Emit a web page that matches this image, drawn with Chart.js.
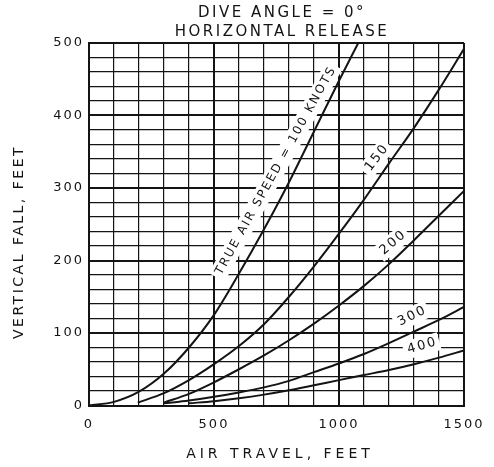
<!DOCTYPE html>
<html>
<head>
<meta charset="utf-8">
<script src="https://cdn.jsdelivr.net/npm/chart.js@4.4.1/dist/chart.umd.min.js"></script>
<style>
  html, body { margin: 0; padding: 0; background: #fff; }
  #wrap { width: 494px; height: 467px; }
</style>
</head>
<body>
<div id="wrap"><canvas id="chart" width="494" height="467"></canvas></div>
<script>
const xTickLabels = [0, 500, 1000, 1500];
const yTickLabels = [0, 100, 200, 300, 400, 500];

// air travel (ft) vs vertical fall (ft), one pair per true air speed
const travel100 = [0, 100, 200, 300, 400, 500, 600, 700, 800, 900, 1000, 1077];
const fall100 = [0, 5, 19, 44, 80, 125, 182, 243, 308, 378, 448, 500];

const travel150 = [195, 300, 400, 500, 600, 700, 800, 900, 1000, 1100, 1200, 1300, 1400, 1500];
const fall150 = [4, 17, 35, 57, 82, 112, 150, 192, 237, 284, 334, 383, 436, 492];

const travel200 = [300, 400, 500, 600, 700, 800, 900, 1000, 1100, 1200, 1300, 1400, 1500];
const fall200 = [4, 16, 32, 50, 69, 90, 113, 138, 165, 195, 228, 262, 296];

const travel300 = [300, 400, 500, 600, 700, 800, 900, 1000, 1100, 1200, 1300, 1400, 1500];
const fall300 = [3, 7, 12, 18, 25, 34, 46, 58, 71, 86, 102, 118, 136];

const travel400 = [400, 500, 600, 700, 800, 900, 1000, 1100, 1200, 1300, 1400, 1500];
const fall400 = [3, 6, 10, 15, 21, 28, 35, 42, 49, 57, 66, 76];

const curveLabels = ['TRUE AIR SPEED = 100 KNOTS', '150', '200', '300', '400'];
// label anchor in data units and rotation in degrees
const labelX = [746, 1150, 1214, 1290, 1330];
const labelY = [323, 341, 224, 123, 82];
const labelAngle = [-61, -53, -40, -26, -16];
const labelSize = [12, 13, 13, 13, 13];

const FONT = '"DejaVu Sans", sans-serif';
const INK = '#141414';

const toPoints = (xs, ys) => xs.map((x, i) => ({ x, y: ys[i] }));

const curve = (xs, ys) => ({
  data: toPoints(xs, ys),
  borderColor: INK,
  borderWidth: 2,
  pointRadius: 0,
  cubicInterpolationMode: 'monotone',
  fill: false,
});

const spacing = {
  id: 'spacing',
  beforeDraw(chart) {
    chart.ctx.letterSpacing = '2px';
  },
};

const curveText = {
  id: 'curveText',
  beforeDatasetsDraw(chart) {
    const { ctx, scales } = chart;
    ctx.save();
    ctx.letterSpacing = '2px';
    curveLabels.forEach((text, i) => {
      const px = scales.x.getPixelForValue(labelX[i]);
      const py = scales.y.getPixelForValue(labelY[i]);
      ctx.save();
      ctx.translate(px, py);
      ctx.rotate(labelAngle[i] * Math.PI / 180);
      ctx.font = labelSize[i] + 'px ' + FONT;
      const w = ctx.measureText(text).width;
      ctx.fillStyle = '#fff';
      ctx.fillRect(-w / 2 - 3, -9, w + 6, 18);
      ctx.fillStyle = INK;
      ctx.textAlign = 'center';
      ctx.textBaseline = 'middle';
      ctx.fillText(text, 1, 0);
      ctx.restore();
    });
    ctx.restore();
  },
};

const titles = {
  id: 'titles',
  afterDraw(chart) {
    const { ctx } = chart;
    ctx.save();
    ctx.fillStyle = INK;
    ctx.textAlign = 'center';
    ctx.textBaseline = 'middle';
    ctx.letterSpacing = '2.5px';
    ctx.font = '15px ' + FONT;
    ctx.fillText('DIVE ANGLE = 0°', 282, 13);
    ctx.fillText('HORIZONTAL RELEASE', 282, 32);
    ctx.font = '14px ' + FONT;
    ctx.letterSpacing = '4px';
    ctx.fillText('AIR TRAVEL, FEET', 280, 454);
    ctx.letterSpacing = '2.5px';
    ctx.translate(19, 242);
    ctx.rotate(-Math.PI / 2);
    ctx.fillText('VERTICAL FALL, FEET', 0, 0);
    ctx.restore();
  },
};

new Chart(document.getElementById('chart'), {
  type: 'line',
  data: {
    datasets: [
      curve(travel100, fall100),
      curve(travel150, fall150),
      curve(travel200, fall200),
      curve(travel300, fall300),
      curve(travel400, fall400),
    ],
  },
  options: {
    responsive: false,
    animation: false,
    layout: { padding: { top: 43, right: 30, bottom: 0, left: 0 } },
    plugins: {
      legend: { display: false },
      tooltip: { enabled: false },
    },
    scales: {
      x: {
        type: 'linear',
        min: 0,
        max: 1500,
        afterFit: scale => { scale.height = 61.5; },
        grid: {
          color: INK,
          drawTicks: false,
          lineWidth: c => (c.tick && c.tick.value % 500 === 0 ? 2 : 1.2),
        },
        border: { color: INK, width: 2 },
        ticks: {
          stepSize: 100,
          autoSkip: false,
          maxRotation: 0,
          padding: 11,
          color: INK,
          font: { family: FONT, size: 13 },
          callback: v => (xTickLabels.includes(v) ? v : ''),
        },
      },
      y: {
        type: 'linear',
        min: 0,
        max: 500,
        afterFit: scale => { scale.width = 89; },
        grid: {
          color: INK,
          drawTicks: false,
          lineWidth: c => (c.tick && c.tick.value % 100 === 0 ? 2 : 1.2),
        },
        border: { color: INK, width: 2 },
        ticks: {
          stepSize: 20,
          autoSkip: false,
          padding: 5,
          color: INK,
          font: { family: FONT, size: 13 },
          callback: v => (yTickLabels.includes(v) ? v : ''),
        },
      },
    },
  },
  plugins: [spacing, curveText, titles],
});
</script>
</body>
</html>
